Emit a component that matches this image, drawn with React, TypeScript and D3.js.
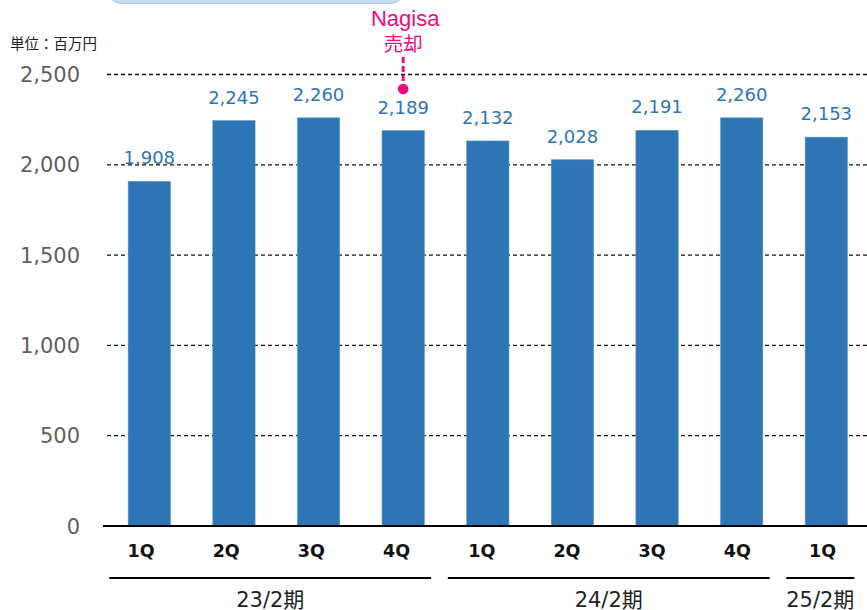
import React from "react";
import * as d3 from "d3";

const categories = ["23/2-1Q", "23/2-2Q", "23/2-3Q", "23/2-4Q", "24/2-1Q", "24/2-2Q", "24/2-3Q", "24/2-4Q", "25/2-1Q"];
const quarterLabels = ["1Q", "2Q", "3Q", "4Q", "1Q", "2Q", "3Q", "4Q", "1Q"];
const values = [1908, 2245, 2260, 2189, 2132, 2028, 2191, 2260, 2153];
const yTicks = [0, 500, 1000, 1500, 2000, 2500];
const groups = [
  { label: "23/2期", from: 0, to: 3 },
  { label: "24/2期", from: 4, to: 7 },
  { label: "25/2期", from: 8, to: 8 },
];
const annotationIndex = 3;
const annotationLines = ["Nagisa", "売却"];
const unitLabel = "単位：百万円";

const W = 867;
const H = 610;
const BAR = "#2E75B6";
const PINK = "#EC0C7E";

export default function App() {
  const x = d3.scaleBand<string>().domain(categories).range([107, 868.6]).paddingInner(0.5).paddingOuter(0.25);
  const xl = d3.scaleBand<string>().domain(categories).range([98.4, 865.1]);
  const y = d3.scaleLinear().domain([0, 2500]).range([526, 74.5]);
  const fmt = d3.format(",");
  const cx = (i: number) => (x(categories[i]) as number) + x.bandwidth() / 2;
  const lx = (i: number) => (xl(categories[i]) as number) + xl.bandwidth() / 2;
  const ax = cx(annotationIndex);

  return (
    <svg width={W} height={H} style={{ position: "absolute", left: 0, top: 0 }}>
      <rect x={0} y={0} width={W} height={H} fill="#fff" />
      <rect x={106} y={-30} width={300} height={33.5} rx={16} fill="#C5DBF0" stroke="#AFCBE8" strokeWidth={1} />
      <text x={10} y={49} fontFamily="'Noto Sans CJK JP'" fontSize={14.5} fill="#222">{unitLabel}</text>
      {yTicks.map((t) => (
        <g key={t}>
          {t > 0 && (
            <line x1={107} x2={867} y1={y(t)} y2={y(t)} stroke="#111" strokeWidth={1.3} strokeDasharray="4 3" />
          )}
          <text x={80} y={y(t)} dy="0.36em" textAnchor="end" fontFamily="'DejaVu Sans'" fontSize={21} fill="#5f5f5f">
            {fmt(t)}
          </text>
        </g>
      ))}
      {values.map((v, i) => (
        <rect key={i} x={x(categories[i])} y={y(v)} width={x.bandwidth()} height={y(0) - y(v)} fill={BAR} stroke="#5A95CC" strokeWidth={0.6} />
      ))}
      {values.map((v, i) => (
        <text key={"l" + i} x={cx(i)} y={y(v) - 17} textAnchor="middle" fontFamily="'DejaVu Sans'" fontSize={18} fill={BAR}>
          {fmt(v)}
        </text>
      ))}
      <line x1={103} x2={867} y1={526} y2={526} stroke="#000" strokeWidth={2} />
      {quarterLabels.map((q, i) => (
        <text key={"q" + i} x={lx(i)} y={557} textAnchor="middle" fontFamily="'DejaVu Sans'" fontWeight="bold" fontSize={17.5} fill="#111">
          {q}
        </text>
      ))}
      {groups.map((g) => {
        const x1 = cx(g.from) - 40;
        const x2 = cx(g.to) + 28;
        return (
          <g key={g.label}>
            <line x1={x1} x2={x2} y1={578} y2={578} stroke="#000" strokeWidth={2.2} />
            <text x={(x1 + x2) / 2} y={607} textAnchor="middle" fontFamily="'DejaVu Sans', 'Noto Sans CJK JP'" fontSize={21} fill="#222">
              {g.label}
            </text>
          </g>
        );
      })}
      <text x={ax + 2} y={25.5} textAnchor="middle" fontFamily="'Liberation Sans'" fontSize={22} fill={PINK}>
        {annotationLines[0]}
      </text>
      <text x={ax} y={51} textAnchor="middle" fontFamily="'Noto Sans CJK JP'" fontSize={19.5} fill={PINK}>
        {annotationLines[1]}
      </text>
      <line x1={ax} x2={ax} y1={57} y2={86} stroke={PINK} strokeWidth={3} strokeDasharray="6 3" />
      <circle cx={ax} cy={89} r={5.3} fill={PINK} />
    </svg>
  );
}
